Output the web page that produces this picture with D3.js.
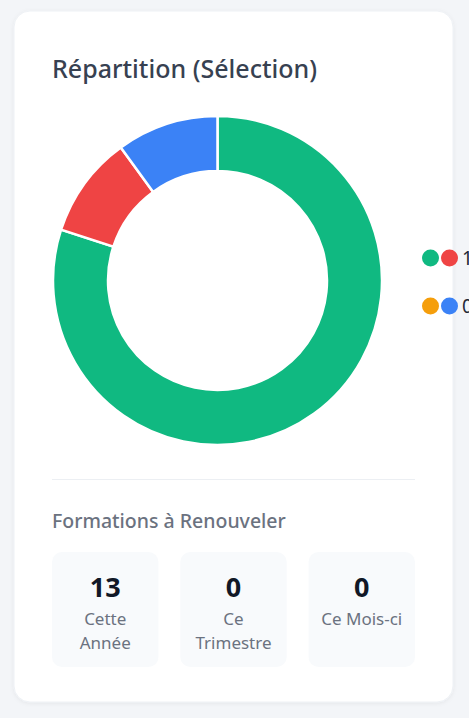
<!DOCTYPE html>
<html>
<head>
<meta charset="utf-8">
<script src="https://cdn.jsdelivr.net/npm/d3@7"></script>
<style>
  html, body { margin: 0; padding: 0; background: #f3f5f8; overflow: hidden; }
  svg { display: block; font-family: "Noto Sans", "Open Sans", sans-serif; }
</style>
</head>
<body>
<div id="chart"></div>
<script>
// segments of the donut (clockwise from 12 o'clock)
var segNames = ["Groupe A", "Groupe B", "Groupe C"];
var segValues = [8, 1, 1];

// legend rows, as drawn (text overflows the card)
var legendLabels = ["1", "0"];

// renewal counters
var statValues = [13, 0, 0];
var statLabels = [["Cette", "Année"], ["Ce", "Trimestre"], ["Ce Mois-ci"]];

var segColors = ["#10b981", "#ef4444", "#3b82f6"];
var legendColors = [["#10b981", "#ef4444"], ["#f59e0b", "#3b82f6"]];

var W = 469, H = 718;

var svg = d3.select("#chart").append("svg")
    .attr("width", W)
    .attr("height", H);

var defs = svg.append("defs");
var f = defs.append("filter").attr("id", "shadow")
    .attr("x", "-10%").attr("y", "-10%").attr("width", "120%").attr("height", "120%");
f.append("feDropShadow").attr("dx", 0).attr("dy", 1).attr("stdDeviation", 2)
    .attr("flood-color", "#000").attr("flood-opacity", 0.06);

// card
svg.append("rect")
    .attr("x", 14).attr("y", 11)
    .attr("width", 439).attr("height", 691)
    .attr("rx", 16)
    .attr("fill", "#fff")
    .attr("stroke", "#eef1f5")
    .attr("filter", "url(#shadow)");

svg.append("text")
    .attr("x", 52).attr("y", 78)
    .attr("font-size", 25).attr("font-weight", 500)
    .attr("fill", "#374151")
    .text("Répartition (Sélection)");

// donut
var cx = 217.5, cy = 280.5, rOut = 164.5, rIn = 109.5;

var pie = d3.pie().sort(null).value(function(d) { return d; });
var arc = d3.arc().innerRadius(rIn).outerRadius(rOut);

var g = svg.append("g").attr("transform", "translate(" + cx + "," + cy + ")");

g.selectAll("path")
    .data(pie(segValues))
    .enter()
    .append("path")
    .attr("d", arc)
    .attr("fill", function(d, i) { return segColors[i]; })
    .attr("stroke", "#fff")
    .attr("stroke-width", 2.5);

// legend
var yLeg = d3.scalePoint().domain(legendLabels).range([258, 306]);

var leg = svg.append("g").selectAll("g")
    .data(legendLabels)
    .enter()
    .append("g")
    .attr("transform", function(d) { return "translate(0," + yLeg(d) + ")"; });

leg.append("circle").attr("cx", 430.5).attr("r", 8.5)
    .attr("fill", function(d, i) { return legendColors[i][0]; });
leg.append("circle").attr("cx", 449.5).attr("r", 8.5)
    .attr("fill", function(d, i) { return legendColors[i][1]; });
leg.append("text")
    .attr("x", 462).attr("y", 7)
    .attr("font-size", 19)
    .attr("fill", "#1f2937")
    .text(function(d) { return d; });

// separator
svg.append("line")
    .attr("x1", 52).attr("x2", 415)
    .attr("y1", 479.5).attr("y2", 479.5)
    .attr("stroke", "#eceff3");

svg.append("text")
    .attr("x", 52).attr("y", 528)
    .attr("font-size", 19.5).attr("font-weight", 500)
    .attr("fill", "#6b7280")
    .text("Formations à Renouveler");

// stat boxes
var xBox = d3.scaleBand()
    .domain(d3.range(statValues.length))
    .range([52, 415])
    .paddingInner(0.17);

var box = svg.append("g").selectAll("g")
    .data(statValues)
    .enter()
    .append("g")
    .attr("transform", function(d, i) { return "translate(" + xBox(i) + ",552)"; });

box.append("rect")
    .attr("width", xBox.bandwidth())
    .attr("height", 115)
    .attr("rx", 10)
    .attr("fill", "#f8fafc");

box.append("text")
    .attr("x", xBox.bandwidth() / 2).attr("y", 45)
    .attr("text-anchor", "middle")
    .attr("font-size", 27).attr("font-weight", 700)
    .attr("fill", "#111827")
    .text(function(d) { return d; });

box.each(function(d, i) {
  var t = d3.select(this).append("text")
      .attr("text-anchor", "middle")
      .attr("font-size", 17)
      .attr("fill", "#6b7280");
  statLabels[i].forEach(function(s, k) {
    t.append("tspan")
        .attr("x", xBox.bandwidth() / 2)
        .attr("y", 73 + k * 24)
        .text(s);
  });
});
</script>
</body>
</html>
